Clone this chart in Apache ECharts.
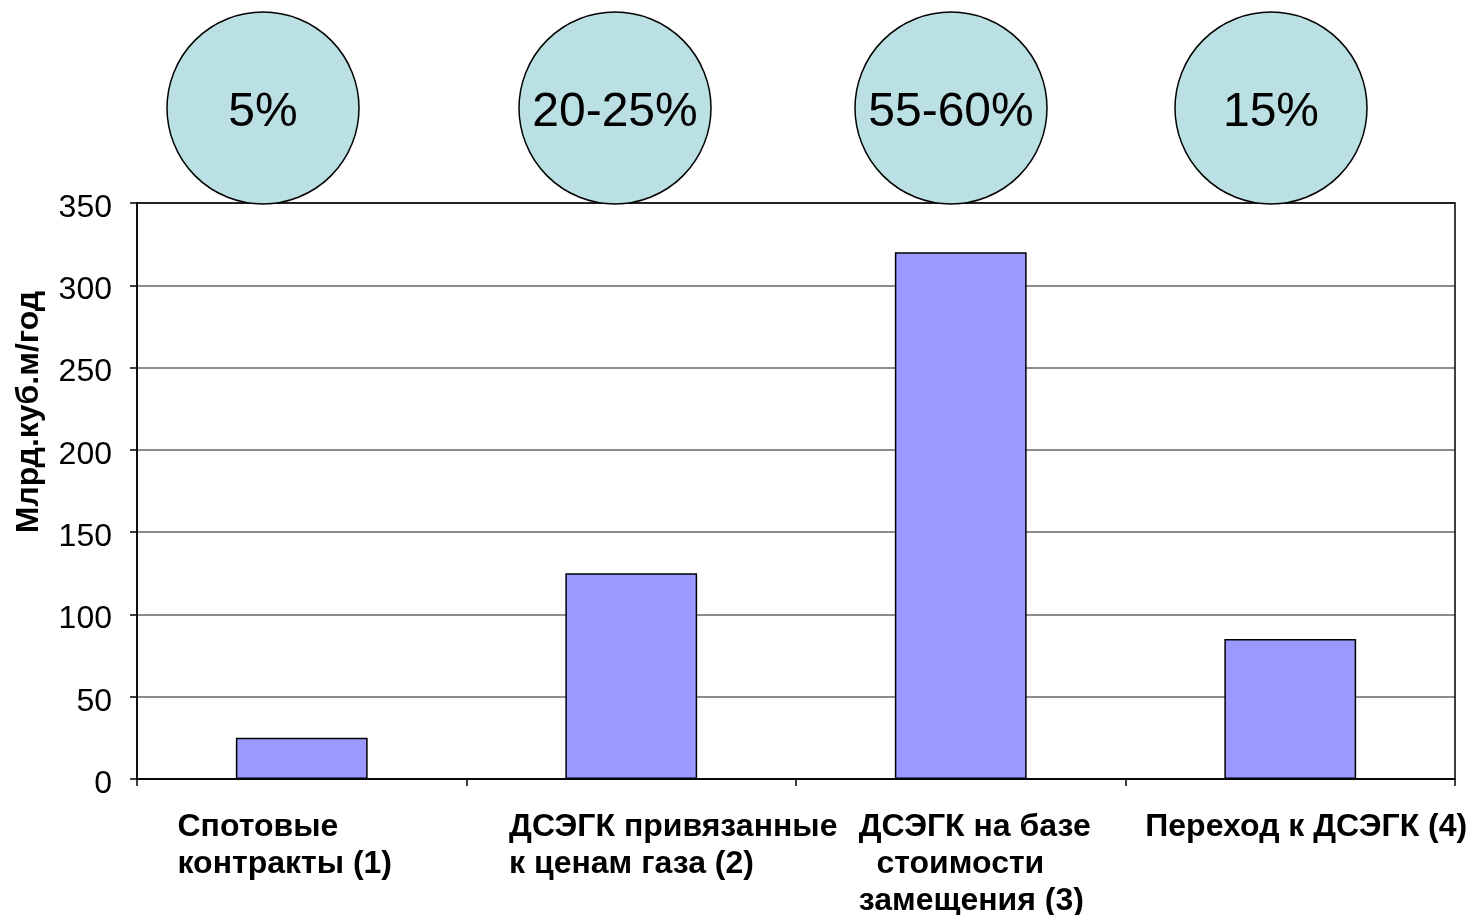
<!DOCTYPE html>
<html>
<head>
<meta charset="utf-8">
<script src="https://cdn.jsdelivr.net/npm/echarts@6/dist/echarts.min.js"></script>
<style>
html,body{margin:0;padding:0;background:#fff;}
#chart{width:1472px;height:915px;}
</style>
</head>
<body>
<div id="chart"></div>
<script>
// ---- data ----
const categories = [
  'Спотовые\nконтракты (1)',
  'ДСЭГК привязанные\nк ценам газа (2)',
  'ДСЭГК на базе\n  стоимости\nзамещения (3)',
  'Переход к ДСЭГК (4)'
];
const volumes = [25, 125, 320, 85];
const shares = ['5%', '20-25%', '55-60%', '15%'];
const yTicks = [0, 50, 100, 150, 200, 250, 300, 350];
const yAxisName = 'Млрд.куб.м/год';

// ---- layout (not data) ----
const circleCenters = [263, 615, 951, 1271];
const circleY = 108, circleR = 96;
const labelPad = [[0, 34, 0, 0], [0, 0, 0, 84], [0, 0, 0, 28], [0, 0, 0, 32]];

const chart = echarts.init(document.getElementById('chart'));
const FONT = 'Liberation Sans, Arial, sans-serif';

const graphics = [];
shares.forEach((s, i) => {
  graphics.push({
    type: 'circle',
    shape: { cx: circleCenters[i], cy: circleY, r: circleR },
    style: { fill: '#bae0e3', stroke: '#000', lineWidth: 1.5 },
    z: 10
  });
  graphics.push({
    type: 'text',
    x: circleCenters[i], y: circleY + 5,
    style: { text: s, fontSize: 48, fontFamily: FONT, fill: '#000', align: 'center', verticalAlign: 'middle' },
    z: 11
  });
});

chart.setOption({
  animation: false,
  backgroundColor: '#fff',
  grid: {
    left: 137, right: 17, top: 203, bottom: 136, outerBoundsMode: 'none', containLabel: false,
    show: true, borderColor: '#000', borderWidth: 1.5, backgroundColor: 'transparent', z: 3
  },
  xAxis: {
    type: 'category',
    data: categories.map((c, i) => ({ value: c, textStyle: { padding: labelPad[i] } })),
    axisLine: { lineStyle: { color: '#000', width: 1.5 } },
    axisTick: { show: true, length: 7, lineStyle: { color: '#000', width: 1.5 } },
    axisLabel: {
      interval: 0, margin: 30, fontSize: 32, fontWeight: 'bold', fontFamily: FONT, color: '#000',
      lineHeight: 37, align: 'center', verticalAlign: 'top',
      formatter: v => v.split('\n').map(l => '{a|' + l + '}').join('\n'),
      rich: { a: { align: 'left', fontSize: 32, fontWeight: 'bold', fontFamily: FONT, lineHeight: 37, color: '#000' } }
    }
  },
  yAxis: {
    type: 'value', min: yTicks[0], max: yTicks[yTicks.length - 1], interval: yTicks[1] - yTicks[0],
    name: yAxisName, nameLocation: 'middle', nameRotate: 90, nameGap: 92,
    nameTextStyle: { fontSize: 32, fontWeight: 'bold', fontFamily: FONT, color: '#000', padding: [0, 0, 0, 158] },
    axisLine: { show: true, lineStyle: { color: '#000', width: 1.5 } },
    axisTick: { show: true, length: 7, lineStyle: { color: '#000', width: 1.5 } },
    axisLabel: {
      fontSize: 32, fontFamily: FONT, color: '#000', margin: 25,
      formatter: v => '{v|' + v + '}',
      rich: { v: { fontSize: 32, fontFamily: FONT, color: '#000', padding: [10, 0, 0, 0] } }
    },
    splitLine: { lineStyle: { color: '#666', width: 1.5 } }
  },
  series: [{
    type: 'bar', data: volumes, barWidth: '40%',
    itemStyle: { color: '#9999ff', borderColor: '#000', borderWidth: 1.5 }
  }],
  graphic: graphics
});
</script>
</body>
</html>
